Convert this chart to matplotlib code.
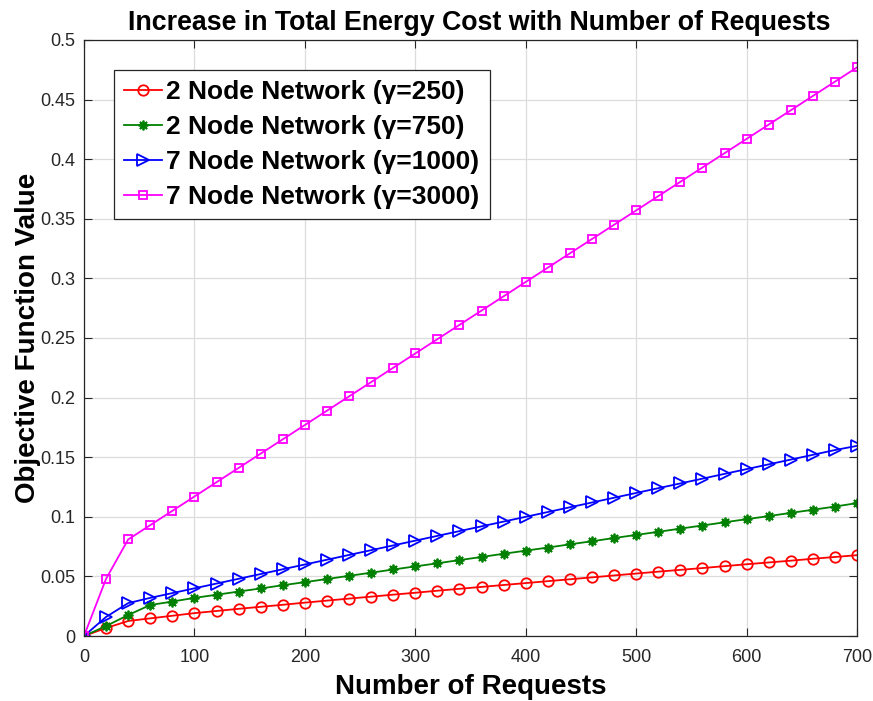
import matplotlib
matplotlib.use('Agg')
import matplotlib.pyplot as plt

plt.rcParams['font.family'] = ['Liberation Sans', 'DejaVu Sans']

requests = list(range(0, 701, 20))

net2_g250 = [0, 0.0067, 0.0126, 0.0148, 0.017, 0.0192, 0.021, 0.0228, 0.0245, 0.0262,
             0.028, 0.0297, 0.0314, 0.033, 0.0347, 0.0363, 0.038, 0.0396, 0.0412, 0.0428,
             0.0444, 0.046, 0.0476, 0.0492, 0.0508, 0.0524, 0.054, 0.0555, 0.057, 0.0586,
             0.0602, 0.0617, 0.0632, 0.0648, 0.0663, 0.0678]
net2_g750 = [0, 0.0084, 0.0176, 0.026, 0.0289, 0.032, 0.0346, 0.0373, 0.0399, 0.0426,
             0.0452, 0.0478, 0.0505, 0.0531, 0.0558, 0.0584, 0.061, 0.0637, 0.0663, 0.069,
             0.0716, 0.0742, 0.0769, 0.0795, 0.0822, 0.0848, 0.0874, 0.0901, 0.0927, 0.0954,
             0.098, 0.1006, 0.1033, 0.1059, 0.1086, 0.1115]
net7_g1000 = [0, 0.016, 0.0276, 0.032, 0.036, 0.040, 0.044, 0.048, 0.052, 0.056,
              0.060, 0.064, 0.068, 0.072, 0.076, 0.080, 0.084, 0.088, 0.092, 0.096,
              0.100, 0.104, 0.108, 0.112, 0.116, 0.120, 0.124, 0.128, 0.132, 0.136,
              0.140, 0.144, 0.148, 0.152, 0.156, 0.1595]
net7_g3000 = [0, 0.048, 0.081, 0.093, 0.105, 0.117, 0.129, 0.141, 0.153, 0.165,
              0.177, 0.189, 0.201, 0.213, 0.225, 0.237, 0.249, 0.261, 0.273, 0.285,
              0.297, 0.309, 0.321, 0.333, 0.345, 0.357, 0.369, 0.381, 0.393, 0.405,
              0.417, 0.429, 0.441, 0.453, 0.465, 0.477]

labels = ['2 Node Network (γ=250)', '2 Node Network (γ=750)',
          '7 Node Network (γ=1000)', '7 Node Network (γ=3000)']

fig = plt.figure(figsize=(8.73, 7.01), dpi=100)
ax = fig.add_axes([0.0962, 0.0927, 0.8855, 0.8503])

lw = 1.3
ax.plot(requests, net2_g250, color='red', lw=lw, marker='o', ms=7.5, mfc='none', mew=1.3, label=labels[0])
ax.plot(requests, net2_g750, color='green', lw=lw, marker=(8, 2, 0), ms=7, mew=1.3, label=labels[1])
ax.plot(requests, net7_g1000, color='blue', lw=lw, marker='>', ms=8.5, mfc='none', mew=1.3, label=labels[2])
ax.plot(requests, net7_g3000, color='magenta', lw=lw, marker='s', ms=6, mfc='none', mew=1.3, label=labels[3])

ax.set_xlim(0, 700)
ax.set_ylim(0, 0.5)
ax.set_xticks(range(0, 701, 100))
ax.set_yticks([0, 0.05, 0.1, 0.15, 0.2, 0.25, 0.3, 0.35, 0.4, 0.45, 0.5])
ax.set_yticklabels(['0', '0.05', '0.1', '0.15', '0.2', '0.25', '0.3', '0.35', '0.4', '0.45', '0.5'])
ax.grid(True, color='#dcdcdc', lw=0.9)
ax.set_axisbelow(True)
ax.tick_params(direction='in', top=True, right=True, labelsize=13, colors='#262626', length=6)
ax.tick_params(axis='x', pad=9)
ax.tick_params(axis='y', pad=6)
for s in ax.spines.values():
    s.set_color('#262626')
    s.set_linewidth(0.9)

ax.set_xlabel('Number of Requests', fontsize=20, fontweight='bold', labelpad=6)
ax.set_ylabel('Objective Function Value', fontsize=20, fontweight='bold', labelpad=0)
ax.set_title('Increase in Total Energy Cost with Number of Requests', fontsize=19.3,
             fontweight='bold', pad=7, x=0.511)

leg = ax.legend(loc='upper left', bbox_to_anchor=(0.0388, 0.9497), borderaxespad=0,
                prop={'size': 19, 'weight': 'bold'}, handlelength=1.45, handletextpad=0.15,
                labelspacing=0.42, borderpad=0.38, fancybox=False, framealpha=1)
leg.get_frame().set_edgecolor('#262626')
leg.get_frame().set_linewidth(0.9)

plt.savefig('out.png', dpi=100)
